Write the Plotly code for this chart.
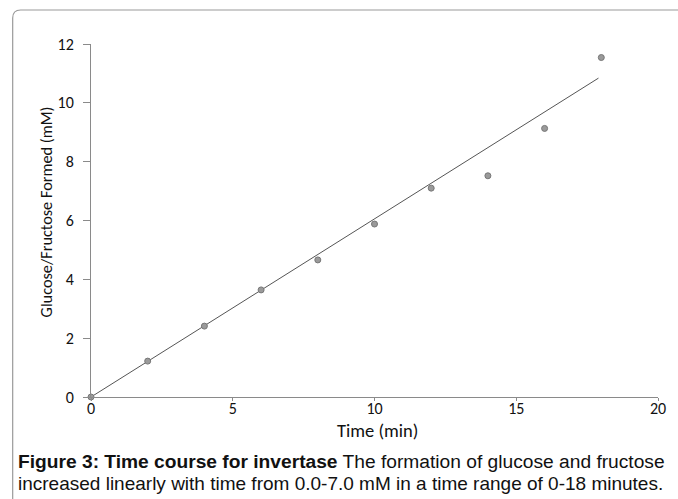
import plotly.graph_objects as go

# Data
time_min = [0, 2, 4, 6, 8, 10, 12, 14, 16, 18]
conc_mM = [0.0, 1.22, 2.41, 3.64, 4.66, 5.88, 7.10, 7.52, 9.13, 11.54]
fit_x = [0, 17.9]
fit_y = [0.0, 10.84]
x_ticks = [0, 5, 10, 15, 20]
y_ticks = [0, 2, 4, 6, 8, 10, 12]

W, H = 678, 499
L, R, T, B = 91, 15, 44, 102
pw, ph = W - L - R, H - T - B

def px_x(p):
    return (p - L) / pw

def px_y(p):
    return (H - B - p) / ph

FAM = "Carlito, Lato, 'Open Sans', sans-serif"
tick_font = dict(family=FAM, size=16, color="#111")

fig = go.Figure()
fig.add_trace(go.Scatter(
    x=fit_x, y=fit_y, mode="lines",
    line=dict(color="#555", width=1), hoverinfo="skip", showlegend=False,
))
fig.add_trace(go.Scatter(
    x=time_min, y=conc_mM, mode="markers",
    marker=dict(symbol="circle", size=6, color="#9a9a9a",
                line=dict(color="#777", width=1)),
    cliponaxis=False, showlegend=False,
))

# Border (rounded rectangle, open to right and bottom)
x0, y0 = px_x(12), px_y(10)
x1, y1 = px_x(700), px_y(520)
rx, ry = 8 / pw, 8 / ph
path = (f"M {x0},{y1} L {x0},{y0 - ry} Q {x0},{y0} {x0 + rx},{y0} L {x1},{y0}")
fig.add_shape(type="path", path=path, xref="paper", yref="paper",
              line=dict(color="#9a9a9a", width=1.2), layer="below")

fig.add_annotation(
    text="Glucose/Fructose Formed (mM)", textangle=-90,
    x=px_x(46), y=px_y(212), xref="paper", yref="paper",
    showarrow=False, font=dict(family=FAM, size=16.3, color="#111"),
    xanchor="center", yanchor="middle",
)
fig.add_annotation(
    text="Time (min)", x=px_x(380), y=px_y(430), xref="paper", yref="paper",
    showarrow=False, font=dict(family=FAM, size=18.5, color="#111"),
    xanchor="center", yanchor="middle",
)
fig.add_annotation(
    text="<b>Figure 3: Time course for invertase</b> The formation of glucose and fructose",
    x=px_x(15), y=px_y(461), xref="paper", yref="paper",
    showarrow=False, font=dict(family="'Liberation Sans', Arial, sans-serif", size=19.2, color="#111"),
    xanchor="left", yanchor="middle",
)
fig.add_annotation(
    text="increased linearly with time from 0.0-7.0 mM in a time range of 0-18 minutes.",
    x=px_x(15), y=px_y(483), xref="paper", yref="paper",
    showarrow=False, font=dict(family="'Liberation Sans', Arial, sans-serif", size=19.0, color="#111"),
    xanchor="left", yanchor="middle",
)

fig.update_xaxes(
    range=[0, 20], tickvals=x_ticks, ticktext=[str(v) for v in x_ticks],
    showgrid=False, zeroline=False, showline=True, linecolor="#8a8a8a", linewidth=1,
    ticks="outside", ticklen=3, tickcolor="#8a8a8a", tickfont=tick_font,
    ticklabelstandoff=-6,
)
fig.update_yaxes(
    range=[0, 12], tickvals=y_ticks, ticktext=[str(v) for v in y_ticks],
    showgrid=False, zeroline=False, showline=True, linecolor="#8a8a8a", linewidth=1,
    ticks="outside", ticklen=7, tickcolor="#8a8a8a", tickfont=tick_font,
    ticklabelstandoff=6,
)
fig.update_layout(
    width=W, height=H, autosize=False,
    margin=dict(l=L, r=R, t=T, b=B),
    paper_bgcolor="white", plot_bgcolor="white",
)
fig.write_html(
    "out.html",
    config={"displayModeBar": False},
    post_script="document.body.style.margin='0';document.body.style.overflow='hidden';",
)
